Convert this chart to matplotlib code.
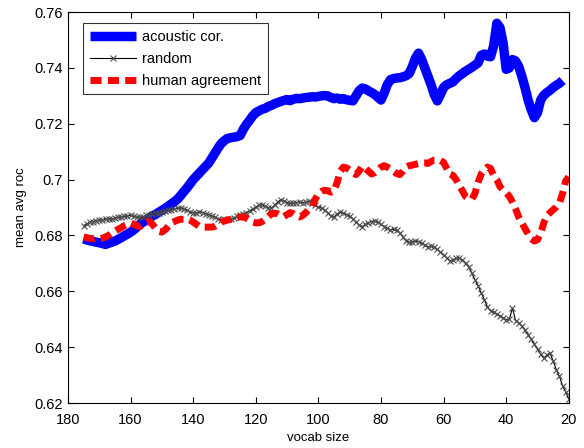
import numpy as np
import matplotlib
matplotlib.use("Agg")
import matplotlib.pyplot as plt

plt.rcParams['font.family'] = ['Liberation Sans', 'DejaVu Sans']

# vocab sizes (x axis runs from 180 down to 20)
vocab = list(range(175, 19, -1))
vocab_acoustic = list(range(175, 21, -1))

acoustic = [
    .6788, .6784, .6781, .6779, .6776, .6774, .6771, .6768, .6772, .6776,
    .6780, .6786, .6792, .6799, .6805, .6812, .6820, .6830, .6840, .6848,
    .6855, .6862, .6870, .6876, .6883, .6890, .6897, .6905, .6913, .6921,
    .6930, .6943, .6957, .6970, .6985, .7000, .7012, .7024, .7036, .7048,
    .7060, .7078, .7096, .7114, .7130, .7140, .7148, .7150, .7152, .7154,
    .7158, .7180, .7198, .7212, .7228, .7240, .7246, .7252, .7255, .7262,
    .7266, .7272, .7276, .7280, .7284, .7287, .7283, .7288, .7291, .7290,
    .7292, .7294, .7295, .7297, .7296, .7298, .7300, .7301, .7300, .7294,
    .7290, .7292, .7288, .7290, .7286, .7284, .7282, .7300, .7318, .7328,
    .7325, .7318, .7312, .7305, .7295, .7285, .7310, .7340, .7358, .7362,
    .7364, .7365, .7368, .7372, .7380, .7405, .7435, .7453, .7430, .7400,
    .7370, .7340, .7305, .7282, .7305, .7330, .7340, .7345, .7350, .7362,
    .7372, .7380, .7388, .7395, .7402, .7410, .7418, .7445, .7450, .7442,
    .7440, .7480, .7560, .7545, .7490, .7395, .7400, .7430, .7425, .7405,
    .7370, .7330, .7285, .7250, .7222, .7240, .7285, .7302, .7312, .7320,
    .7330, .7338, .7345, .7355,
]

random_sel = [
    .6835, .6842, .6848, .6850, .6853, .6856, .6855, .6858, .6860, .6858,
    .6862, .6865, .6866, .6868, .6870, .6872, .6868, .6866, .6865, .6866,
    .6872, .6875, .6878, .6880, .6882, .6885, .6888, .6890, .6892, .6895,
    .6898, .6898, .6895, .6890, .6885, .6882, .6880, .6885, .6882, .6878,
    .6875, .6870, .6865, .6860, .6857, .6860, .6858, .6860, .6862, .6868,
    .6872, .6878, .6882, .6888, .6895, .6902, .6908, .6910, .6905, .6900,
    .6898, .6908, .6920, .6928, .6925, .6918, .6915, .6916, .6918, .6920,
    .6918, .6920, .6922, .6918, .6910, .6902, .6898, .6890, .6880, .6870,
    .6866, .6878, .6884, .6880, .6875, .6868, .6860, .6848, .6838, .6832,
    .6840, .6845, .6850, .6852, .6848, .6840, .6832, .6826, .6820, .6822,
    .6818, .6810, .6795, .6782, .6775, .6778, .6780, .6778, .6772, .6765,
    .6760, .6762, .6758, .6750, .6740, .6730, .6720, .6708, .6712, .6718,
    .6720, .6712, .6700, .6688, .6665, .6642, .6620, .6595, .6570, .6545,
    .6530, .6525, .6518, .6512, .6505, .6498, .6500, .6540, .6495, .6488,
    .6475, .6460, .6445, .6428, .6410, .6392, .6375, .6360, .6372, .6380,
    .6350, .6320, .6295, .6262, .6240, .6215,
]

human = [
    .6795, .6792, .6790, .6788, .6790, .6788, .6790, .6795, .6800, .6808,
    .6815, .6822, .6828, .6835, .6840, .6845, .6840, .6835, .6832, .6840,
    .6848, .6850, .6840, .6825, .6815, .6812, .6820, .6832, .6845, .6850,
    .6855, .6858, .6858, .6860, .6855, .6848, .6840, .6832, .6830, .6830,
    .6830, .6830, .6833, .6840, .6848, .6852, .6855, .6858, .6862, .6865,
    .6866, .6866, .6862, .6855, .6848, .6845, .6845, .6850, .6858, .6868,
    .6878, .6880, .6878, .6872, .6868, .6875, .6882, .6878, .6870, .6866,
    .6872, .6882, .6895, .6905, .6930, .6950, .6958, .6962, .6960, .6955,
    .6960, .6990, .7030, .7045, .7042, .7035, .7025, .7018, .7030, .7048,
    .7040, .7030, .7020, .7025, .7035, .7045, .7050, .7045, .7038, .7030,
    .7022, .7018, .7030, .7045, .7050, .7052, .7055, .7058, .7060, .7060,
    .7058, .7065, .7070, .7070, .7068, .7062, .7040, .7020, .7015, .7000,
    .6980, .6960, .6940, .6932, .6930, .6950, .6990, .7020, .7035, .7045,
    .7040, .7015, .7000, .6975, .6962, .6952, .6940, .6920, .6895, .6866,
    .6845, .6825, .6805, .6788, .6780, .6785, .6808, .6845, .6870, .6882,
    .6892, .6902, .6916, .6950, .6995, .7010,
]

xticks = [180, 160, 140, 120, 100, 80, 60, 40, 20]
yticks = [0.62, 0.64, 0.66, 0.68, 0.70, 0.72, 0.74, 0.76]
ytick_labels = ['0.62', '0.64', '0.66', '0.68', '0.7', '0.72', '0.74', '0.76']

fig = plt.figure(figsize=(5.84, 4.48), dpi=100)
ax = fig.add_axes([0.1164, 0.1004, 0.8576, 0.8726])

ax.plot(vocab_acoustic, acoustic, color='#0000ff', lw=6.8,
        solid_capstyle='butt', label='acoustic cor.')
ax.plot(vocab, random_sel, color='black', lw=0.8, marker='x', markersize=4,
        markeredgecolor='0.3', markeredgewidth=0.8, label='random')
ax.plot(vocab, human, color='#ff0000', lw=5, dashes=(1.6, 0.9),
        dash_capstyle='butt', label='human agreement')

ax.set_xlim(180, 20)
ax.set_ylim(0.62, 0.76)
ax.set_xticks(xticks)
ax.set_yticks(yticks)
ax.set_yticklabels(ytick_labels)
ax.tick_params(direction='in', top=True, right=True, labelsize=10.5,
               length=4, width=0.8)
ax.tick_params(axis='x', pad=7)
ax.tick_params(axis='y', pad=4)
for s in ax.spines.values():
    s.set_linewidth(0.8)

ax.set_xlabel('vocab size', fontsize=9.5, labelpad=4)
ax.set_ylabel('mean avg roc', fontsize=9.5, labelpad=5)

leg = ax.legend(loc='upper left', bbox_to_anchor=(0.03, 0.972),
                fontsize=10.5, handlelength=3.2, frameon=True, fancybox=False,
                borderaxespad=0, labelspacing=0.55, borderpad=0.45,
                handletextpad=0.4)
leg.get_frame().set_edgecolor('black')
leg.get_frame().set_linewidth(0.8)

fig.savefig('out.png', dpi=100)
